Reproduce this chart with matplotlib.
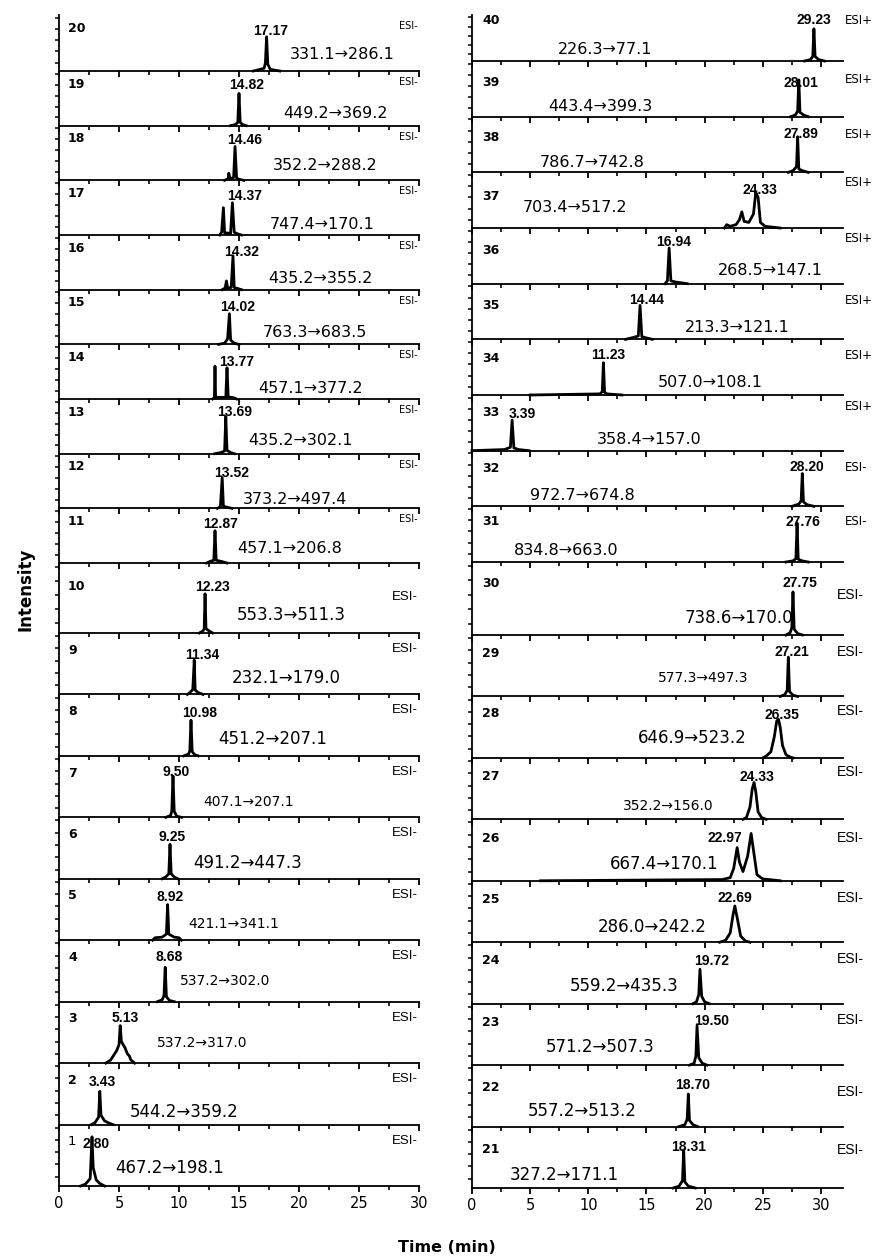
import matplotlib.pyplot as plt
import numpy as np

# ---- left column, panels listed top to bottom (20 .. 1) ----
left_ids = [20, 19, 18, 17, 16, 15, 14, 13, 12, 11, 10, 9, 8, 7, 6, 5, 4, 3, 2, 1]
left_peak = ["17.17", "14.82", "14.46", "14.37", "14.32", "14.02", "13.77", "13.69",
             "13.52", "12.87", "12.23", "11.34", "10.98", "9.50", "9.25", "8.92",
             "8.68", "5.13", "3.43", "2.80"]
left_mrm = ["331.1→286.1", "449.2→369.2", "352.2→288.2", "747.4→170.1", "435.2→355.2",
            "763.3→683.5", "457.1→377.2", "435.2→302.1", "373.2→497.4", "457.1→206.8",
            "553.3→511.3", "232.1→179.0", "451.2→207.1", "407.1→207.1", "491.2→447.3",
            "421.1→341.1", "537.2→302.0", "537.2→317.0", "544.2→359.2", "467.2→198.1"]
left_mode = ["ESI-"] * 20

# chromatogram traces: (time, relative intensity) vertices
left_traces = [
    [(16.2, 0), (16.8, 0.03), (17.1, 0.05), (17.2, 0.15), (17.3, 0.61), (17.4, 0.12), (17.6, 0.03), (18.1, 0.01), (18.4, 0)],
    [(14.3, 0), (14.7, 0.02), (14.9, 0.06), (15.0, 0.59), (15.1, 0.06), (15.3, 0.02), (15.6, 0)],
    [(13.8, 0), (14.1, 0.03), (14.15, 0.13), (14.25, 0.03), (14.55, 0.05), (14.67, 0.62), (14.8, 0.04), (15.0, 0.02), (15.4, 0)],
    [(13.4, 0), (13.55, 0.05), (13.7, 0.5), (13.8, 0.04), (14.3, 0.03), (14.45, 0.59), (14.6, 0.05), (14.9, 0.02), (15.2, 0)],
    [(13.6, 0), (13.85, 0.03), (13.95, 0.16), (14.05, 0.03), (14.35, 0.04), (14.5, 0.62), (14.6, 0.04), (14.9, 0.02), (15.2, 0)],
    [(13.3, 0), (13.8, 0.02), (14.05, 0.1), (14.2, 0.56), (14.3, 0.08), (14.6, 0.02), (15.0, 0)],
    [(12.8, 0), (12.95, 0.03), (13.0, 0.6), (13.05, 0.03), (13.9, 0.03), (14.0, 0.57), (14.1, 0.04), (14.6, 0.02), (14.8, 0)],
    [(13.0, 0), (13.5, 0.02), (13.8, 0.05), (13.9, 0.68), (14.0, 0.06), (14.3, 0.02), (14.6, 0)],
    [(13.2, 0), (13.45, 0.03), (13.6, 0.56), (13.7, 0.04), (14.0, 0.02), (14.4, 0)],
    [(12.3, 0), (12.6, 0.03), (12.9, 0.05), (13.0, 0.59), (13.1, 0.05), (13.5, 0.03), (14.0, 0)],
    [(11.7, 0), (12.0, 0.03), (12.1, 0.06), (12.17, 0.56), (12.25, 0.06), (12.6, 0.02), (12.8, 0)],
    [(10.7, 0), (10.9, 0.03), (11.15, 0.08), (11.27, 0.56), (11.35, 0.07), (11.6, 0.03), (12.0, 0)],
    [(10.4, 0), (10.8, 0.03), (10.9, 0.08), (11.0, 0.58), (11.1, 0.07), (11.3, 0.02), (11.6, 0)],
    [(8.9, 0), (9.3, 0.03), (9.4, 0.1), (9.5, 0.67), (9.6, 0.1), (9.8, 0.02), (10.2, 0)],
    [(8.6, 0), (8.9, 0.03), (9.15, 0.08), (9.25, 0.56), (9.35, 0.08), (9.6, 0.03), (9.9, 0)],
    [(7.8, 0), (8.0, 0.04), (8.6, 0.05), (8.95, 0.1), (9.05, 0.58), (9.15, 0.1), (9.6, 0.05), (10.0, 0.04), (10.2, 0)],
    [(8.2, 0), (8.6, 0.03), (8.75, 0.1), (8.85, 0.56), (8.95, 0.08), (9.2, 0.02), (9.6, 0)],
    [(3.9, 0), (4.3, 0.05), (4.8, 0.2), (5.0, 0.3), (5.1, 0.61), (5.2, 0.35), (5.5, 0.25), (5.7, 0.15), (5.85, 0.12), (6.0, 0.05), (6.3, 0)],
    [(2.7, 0), (3.0, 0.03), (3.3, 0.12), (3.4, 0.54), (3.5, 0.15), (3.8, 0.06), (4.2, 0.02), (4.5, 0)],
    [(1.8, 0), (2.2, 0.03), (2.6, 0.12), (2.75, 0.8), (2.85, 0.3), (3.1, 0.1), (3.4, 0.04), (3.8, 0)],
]

# ---- right column, panels listed top to bottom (40 .. 21) ----
right_ids = [40, 39, 38, 37, 36, 35, 34, 33, 32, 31, 30, 29, 28, 27, 26, 25, 24, 23, 22, 21]
right_peak = ["29.23", "28.01", "27.89", "24.33", "16.94", "14.44", "11.23", "3.39",
              "28.20", "27.76", "27.75", "27.21", "26.35", "24.33", "22.97", "22.69",
              "19.72", "19.50", "18.70", "18.31"]
right_mrm = ["226.3→77.1", "443.4→399.3", "786.7→742.8", "703.4→517.2", "268.5→147.1",
             "213.3→121.1", "507.0→108.1", "358.4→157.0", "972.7→674.8", "834.8→663.0",
             "738.6→170.0", "577.3→497.3", "646.9→523.2", "352.2→156.0", "667.4→170.1",
             "286.0→242.2", "559.2→435.3", "571.2→507.3", "557.2→513.2", "327.2→171.1"]
right_mode = ["ESI+"] * 8 + ["ESI-"] * 12

right_traces = [
    [(28.6, 0), (29.1, 0.03), (29.3, 0.1), (29.4, 0.7), (29.5, 0.1), (29.8, 0.03), (30.3, 0)],
    [(27.4, 0), (27.8, 0.03), (28.0, 0.1), (28.1, 0.66), (28.2, 0.08), (28.5, 0.03), (28.9, 0)],
    [(27.2, 0), (27.6, 0.03), (27.9, 0.1), (28.0, 0.64), (28.1, 0.06), (28.4, 0.03), (28.9, 0)],
    [(21.7, 0), (21.9, 0.06), (22.2, 0.03), (22.7, 0.06), (23.0, 0.15), (23.2, 0.29), (23.4, 0.12), (23.8, 0.1), (24.2, 0.25), (24.4, 0.64), (24.6, 0.55), (24.8, 0.1), (25.2, 0.03), (26.5, 0)],
    [(16.6, 0), (16.8, 0.05), (16.95, 0.64), (17.1, 0.05), (17.5, 0.03), (18.5, 0)],
    [(13.2, 0), (13.8, 0.03), (14.3, 0.06), (14.45, 0.61), (14.6, 0.05), (14.9, 0.03), (15.5, 0)],
    [(5.0, 0), (11.0, 0.02), (11.2, 0.06), (11.3, 0.58), (11.4, 0.05), (11.6, 0.02), (12.9, 0)],
    [(0.0, 0), (2.8, 0.02), (3.3, 0.06), (3.45, 0.55), (3.6, 0.05), (4.0, 0.02), (4.9, 0)],
    [(27.5, 0), (28.1, 0.04), (28.3, 0.1), (28.4, 0.59), (28.5, 0.08), (28.8, 0.03), (29.4, 0)],
    [(27.0, 0), (27.6, 0.02), (27.85, 0.06), (27.95, 0.7), (28.05, 0.05), (28.4, 0.02), (28.9, 0)],
    [(27.0, 0), (27.35, 0.03), (27.5, 0.1), (27.6, 0.59), (27.7, 0.08), (28.0, 0.02), (28.4, 0)],
    [(26.5, 0), (26.9, 0.03), (27.1, 0.1), (27.2, 0.64), (27.3, 0.08), (27.6, 0.02), (28.0, 0)],
    [(25.0, 0), (25.3, 0.03), (25.7, 0.1), (26.0, 0.35), (26.2, 0.6), (26.35, 0.63), (26.5, 0.5), (26.7, 0.2), (27.0, 0.05), (27.4, 0.01), (27.6, 0)],
    [(23.3, 0), (23.6, 0.03), (23.9, 0.2), (24.1, 0.5), (24.25, 0.6), (24.4, 0.45), (24.6, 0.12), (24.9, 0.03), (25.3, 0)],
    [(5.9, 0), (21.5, 0.02), (22.2, 0.05), (22.5, 0.2), (22.8, 0.54), (23.0, 0.3), (23.3, 0.15), (23.7, 0.4), (24.0, 0.77), (24.2, 0.5), (24.5, 0.1), (25.0, 0.03), (26.5, 0)],
    [(21.3, 0), (21.8, 0.03), (22.2, 0.15), (22.45, 0.45), (22.6, 0.59), (22.8, 0.4), (23.1, 0.1), (23.5, 0.02), (23.9, 0)],
    [(19.0, 0), (19.3, 0.03), (19.5, 0.15), (19.6, 0.56), (19.75, 0.12), (20.0, 0.03), (20.4, 0)],
    [(18.7, 0), (19.1, 0.03), (19.25, 0.15), (19.35, 0.64), (19.5, 0.12), (19.8, 0.03), (20.2, 0)],
    [(17.8, 0), (18.3, 0.03), (18.5, 0.12), (18.6, 0.53), (18.7, 0.1), (19.0, 0.03), (19.4, 0)],
    [(17.3, 0), (17.8, 0.03), (18.1, 0.12), (18.2, 0.62), (18.3, 0.1), (18.6, 0.03), (19.2, 0)],
]

# ---- text placement (layout only) ----
left_peak_xy = [(17.67, .72), (15.67, .74), (15.5, .73), (15.5, .72), (15.25, .69), (14.9, .69),
                (14.8, .68), (14.6, .76), (14.4, .65), (13.5, .71), (12.8, .66), (11.9, .64),
                (11.7, .69), (9.8, .74), (9.4, .68), (9.25, .71), (9.2, .72), (5.5, .73),
                (3.6, .70), (3.1, .68)]
left_mrm_xy = [(19.25, .29), (18.67, .22), (17.83, .27), (17.58, .20), (17.42, .20), (17.0, .22),
               (16.58, .20), (15.75, .25), (15.33, .17), (14.83, .27), (14.83, .26), (14.42, .26),
               (13.25, .27), (12.0, .25), (11.17, .26), (10.75, .26), (10.08, .34), (8.17, .32),
               (5.92, .21), (4.67, .30)]
left_style = ["wide"] * 10 + ["narrow", "narrow", "narrow", "small", "narrow",
                              "small", "small", "small", "narrow", "narrow"]
left_mode_y = [.80] * 10 + [.51] + [.74] * 9
left_num_y = [.76] * 10 + [.66] + [.72] * 9

right_peak_xy = [(29.4, .89), (28.3, .61), (28.3, .68), (24.75, .69), (17.35, .75), (15.05, .70),
                 (11.7, .71), (4.3, .66), (28.8, .70), (28.45, .72), (28.2, .71), (27.5, .72),
                 (26.65, .70), (24.5, .69), (21.75, .70), (22.6, .72), (20.6, .70), (20.6, .72),
                 (19.0, .68), (18.65, .67)]
right_mrm_xy = [(7.4, .24), (6.53, .18), (5.85, .18), (4.4, .36), (21.15, .24), (18.3, .21),
                (16.0, .22), (10.75, .20), (5.0, .20), (3.6, .21), (18.3, .23), (16.0, .30),
                (14.3, .32), (13.0, .21), (11.85, .28), (10.85, .25), (8.43, .28), (6.3, .29),
                (4.8, .26), (3.2, .21)]
right_style = ["wide"] * 10 + ["narrow", "small", "narrow", "small", "narrow",
                               "narrow", "narrow", "narrow", "narrow", "narrow"]
right_mode_y = [.89, .66, .68, .82, .82, .70, .71, .80, .70, .72,
                .55, .72, .77, .77, .69, .72, .73, .73, .56, .62]
right_num_y = [.87, .61, .62, .56, .60, .61, .65, .68, .68, .72,
               .71, .70, .73, .70, .69, .70, .70, .70, .64, .62]

W, H = 882, 1258
fig = plt.figure(figsize=(W / 100, H / 100), dpi=100)

left_edges = [15] + list(np.linspace(71, 563, 10)) + list(np.linspace(633, 1186, 10))
right_edges = [15] + list(np.linspace(61, 562, 10)) + list(np.linspace(635, 1188, 10))

mrm_font = {
    "wide": dict(family="DejaVu Sans", fontsize=11.5),
    "narrow": dict(family="DejaVu Sans", fontsize=12),
    "small": dict(family="DejaVu Sans", fontsize=10),
}


def draw_column(x0, width, xmax, edges, ids, peaks, mrms, modes, traces,
                peak_xy, mrm_xy, styles, mode_y, num_y, right_side):
    n = len(ids)
    for i in range(n):
        top, bot = edges[i], edges[i + 1]
        ax = fig.add_axes([x0 / W, 1 - bot / H, width / W, (bot - top) / H])
        ax.patch.set_visible(False)
        ax.set_xlim(0, xmax)
        ax.set_ylim(0, 1)
        for s in ["top", "right"]:
            ax.spines[s].set_visible(False)
        for s in ["left", "bottom"]:
            ax.spines[s].set_linewidth(1.3)
        ax.set_xticks(np.arange(0, 31, 5))
        ax.set_xticks(np.arange(2.5, 30, 5), minor=True)
        ax.set_yticks([0.15, 0.35, 0.55, 0.75, 0.95])
        ax.tick_params(axis="x", which="major", direction="out", length=4, width=1.3,
                       labelsize=10.5, pad=3, labelbottom=(i == n - 1))
        ax.tick_params(axis="x", which="minor", direction="out", length=3, width=1.2)
        ax.tick_params(axis="y", direction="out", length=3, width=1.1, labelleft=False)

        t = [p[0] for p in traces[i]]
        y = [p[1] for p in traces[i]]
        ax.plot(t, y, color="black", lw=2.0, clip_on=False, zorder=3)

        lower = i >= 10
        ax.text(peak_xy[i][0], peak_xy[i][1], peaks[i], ha="center", va="center",
                fontsize=10, fontweight="bold", family=["Liberation Sans", "DejaVu Sans"],
                zorder=4)
        ax.text(mrm_xy[i][0], mrm_xy[i][1], mrms[i], ha="left", va="center",
                **mrm_font[styles[i]])

        if ids[i] == 1:
            ax.text(0.75, num_y[i], str(ids[i]), ha="left", va="center", fontsize=9.5)
        else:
            ax.text(0.75 if not right_side else 0.9, num_y[i], str(ids[i]), ha="left",
                    va="center", fontsize=9, fontweight="bold")

        if right_side:
            if lower:
                ax.text(31.4, mode_y[i], modes[i], ha="left", va="center", fontsize=10,
                        family=["Liberation Sans", "DejaVu Sans"])
            else:
                ax.text(32.1, mode_y[i], modes[i], ha="left", va="center", fontsize=8.5)
        else:
            if lower:
                ax.text(29.9, mode_y[i], modes[i], ha="right", va="center", fontsize=9.5,
                        family=["Liberation Sans", "DejaVu Sans"])
            else:
                ax.text(29.9, mode_y[i], modes[i], ha="right", va="center", fontsize=7)


draw_column(59, 360, 30, left_edges, left_ids, left_peak, left_mrm, left_mode, left_traces,
            left_peak_xy, left_mrm_xy, left_style, left_mode_y, left_num_y, False)
draw_column(472, 371, 31.9, right_edges, right_ids, right_peak, right_mrm, right_mode,
            right_traces, right_peak_xy, right_mrm_xy, right_style, right_mode_y,
            right_num_y, True)

fig.text(26 / W, 1 - 589 / H, "Intensity", rotation=90, ha="center", va="center",
         fontsize=12, fontweight="bold")
fig.text(447 / W, 1 - 1247 / H, "Time (min)", ha="center", va="center",
         fontsize=11.5, fontweight="bold")

fig.savefig("out.png", dpi=100)
